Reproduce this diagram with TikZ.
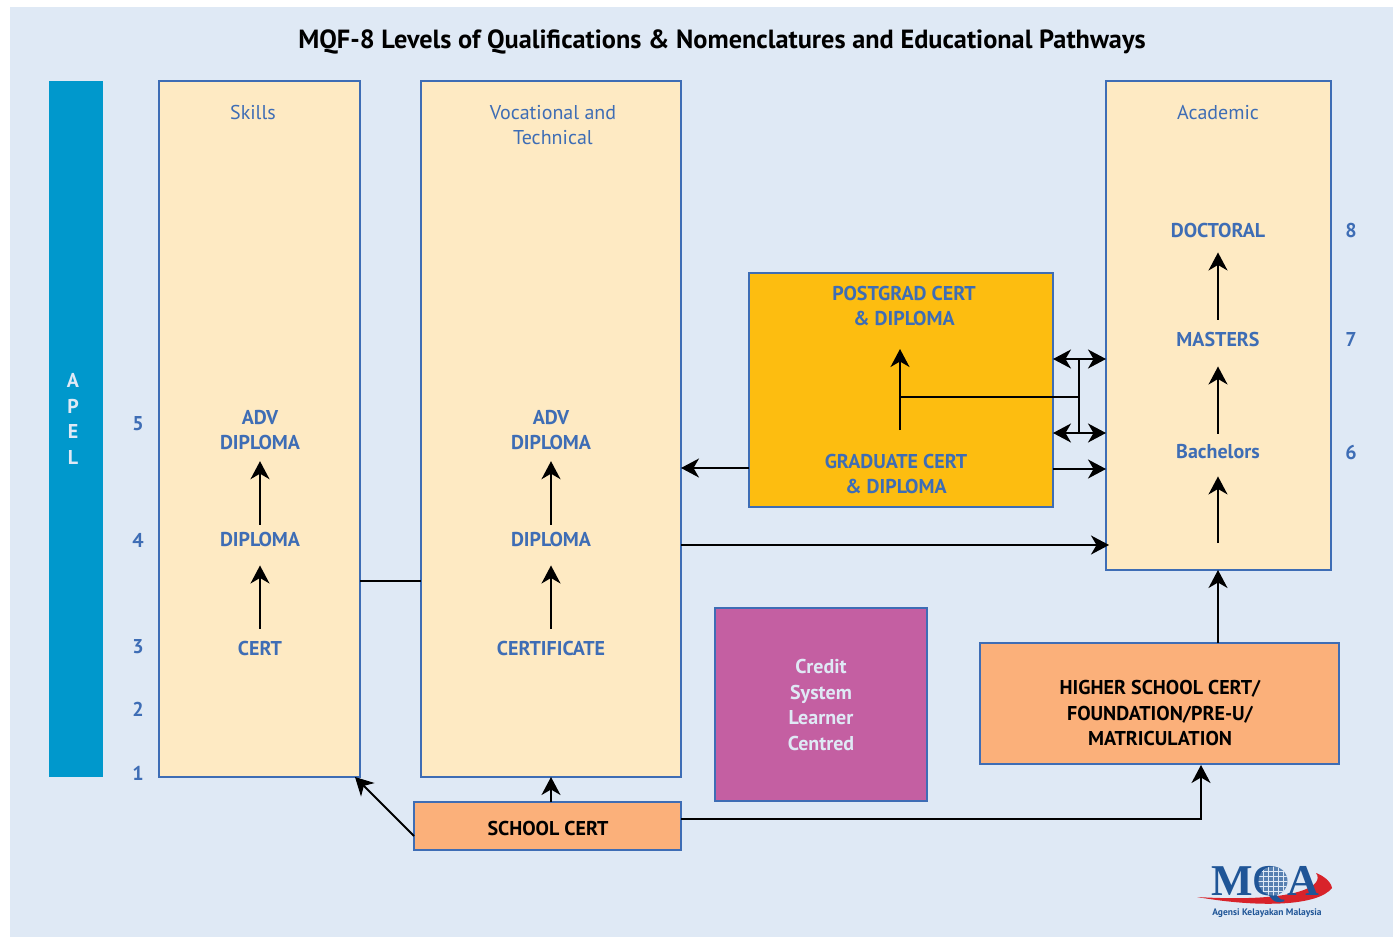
\documentclass[tikz,border=0pt]{standalone}
\usepackage{fontspec}
\setmainfont{PT Sans}
\newfontfamily\logofont{Liberation Serif}
\usetikzlibrary{arrows.meta}
\definecolor{pagebg}{HTML}{DFE9F5}
\definecolor{cream}{HTML}{FEEAC3}
\definecolor{lineblue}{HTML}{3E6DB5}
\definecolor{gold}{HTML}{FDBD10}
\definecolor{plum}{HTML}{C45FA2}
\definecolor{salmon}{HTML}{FBB07A}
\definecolor{teal}{HTML}{0098CC}
\definecolor{logoblue}{HTML}{1F5597}
\definecolor{logored}{HTML}{D8232A}
\tikzset{
  x=1pt,y=-1pt,
  box/.style={draw=lineblue,line width=1.9pt,anchor=north west,inner sep=0pt,outer sep=0pt},
  lbl/.style={font=\fontsize{20}{25.5}\selectfont\bfseries,text=lineblue,align=center,inner sep=0pt},
  thin lbl/.style={font=\fontsize{20}{25.5}\selectfont,text=lineblue,align=center,inner sep=0pt},
  blk/.style={font=\fontsize{20}{25.5}\selectfont\bfseries,text=black,align=center,inner sep=0pt},
  wht/.style={font=\fontsize{20}{25.5}\selectfont\bfseries,text=pagebg,align=center,inner sep=0pt},
  conn/.style={draw=black,line width=1.9pt},
  arr/.style={conn,-{Stealth[length=18pt,width=19pt,inset=5.5pt]}},
  darr/.style={conn,{Stealth[length=18pt,width=19pt,inset=5.5pt]}-{Stealth[length=18pt,width=19pt,inset=5.5pt]}},
}
\begin{document}
\begin{tikzpicture}
\useasboundingbox (0,0) rectangle (1393,937);
\fill[pagebg] (10,7) rectangle (1393,937);
\node[font=\fontsize{26.3}{30}\selectfont\bfseries,inner sep=0pt] (title) at (722,42) {MQF-8 Levels of Qualifications \& Nomenclatures and Educational Pathways};

% boxes
\node[anchor=north west,fill=teal,minimum width=54pt,minimum height=696pt,inner sep=0pt,outer sep=0pt] (apel) at (49,81) {};
\node[box,fill=cream,minimum width=201pt,minimum height=696pt] (skills) at (159,81) {};
\node[box,fill=cream,minimum width=260pt,minimum height=696pt] (voc) at (421,81) {};
\node[box,fill=cream,minimum width=225pt,minimum height=489pt] (acad) at (1106,81) {};
\node[box,fill=gold,minimum width=304pt,minimum height=234pt] (grad) at (749,273) {};
\node[box,fill=plum,minimum width=212pt,minimum height=193pt] (credit) at (715,608) {};
\node[box,fill=salmon,minimum width=359pt,minimum height=121pt] (higher) at (980,643) {};
\node[box,fill=salmon,minimum width=267pt,minimum height=48pt] (school) at (414,802) {};

% texts
\node[wht] (apeltxt) at (73,419) {A\\P\\E\\L};
\node[thin lbl] (skillstxt) at (253,112) {Skills};
\node[thin lbl] (voctxt) at (553,125) {Vocational and\\Technical};
\node[thin lbl] (acadtxt) at (1218,113) {Academic};

\node[lbl] (sadv) at (260,430) {ADV\\DIPLOMA};
\node[lbl] (sdip) at (260,539) {DIPLOMA};
\node[lbl] (scert) at (260,648) {CERT};
\node[lbl] (vadv) at (551,430) {ADV\\DIPLOMA};
\node[lbl] (vdip) at (551,539) {DIPLOMA};
\node[lbl] (vcert) at (551,648) {CERTIFICATE};
\node[lbl] (doc) at (1218,230) {DOCTORAL};
\node[lbl] (mas) at (1218,339) {MASTERS};
\node[lbl] (bac) at (1218,452) {Bachelors};
\coordinate (bacfoot) at (1218,543);
\node[lbl] (pg) at (904,306) {POSTGRAD CERT\\\& DIPLOMA};
\node[lbl] (gc) at (896,474) {GRADUATE CERT\\\& DIPLOMA};
\node[wht] (credittxt) at (821,705) {Credit\\System\\Learner\\Centred};
\node[blk] (highertxt) at (1160,713) {HIGHER SCHOOL CERT/\\FOUNDATION/PRE-U/\\MATRICULATION};
\node[blk] (schooltxt) at (548,828) {SCHOOL CERT};

\foreach \n/\t/\x/\y in {l5/5/138/424,l4/4/138/540,l3/3/138/647,l2/2/138/709,l1/1/138/773,l8/8/1351/230,l7/7/1351/339,l6/6/1351/452}
  \node[lbl] (\n) at (\x,\y) {\t};

% connectors
\draw[arr,shorten <=12pt,shorten >=19pt] (scert) -- (sdip);
\draw[arr,shorten <=7pt,shorten >=11pt] (sdip) -- (sadv);
\draw[arr,shorten <=12pt,shorten >=19pt] (vcert) -- (vdip);
\draw[arr,shorten <=7pt,shorten >=11pt] (vdip) -- (vadv);
\draw[arr,shorten >=17pt] (bacfoot) -- (bac);
\draw[arr,shorten <=11pt,shorten >=20pt] (bac) -- (mas);
\draw[arr,shorten <=12pt,shorten >=15pt] (mas) -- (doc);

\coordinate (pgtip) at (900,349);
\coordinate (gcfoot) at (900,430);
\coordinate (tee) at (900,397);
\coordinate (busmid) at (1079,397);
\coordinate (bustop) at (1079,359);
\coordinate (busbot) at (1079,433);
\draw[arr] (gcfoot) -- (pgtip);
\draw[conn] (tee) -- (busmid);
\draw[conn] (bustop) -- (busbot);
\draw[darr] (grad.east |- bustop) -- (acad.west |- bustop);
\draw[darr] (grad.east |- busbot) -- (acad.west |- busbot);
\draw[arr] (grad.east |- 0,469) -- (acad.west |- 0,469);
\draw[arr] (grad.west |- 0,468) -- (voc.east |- 0,468);
\draw[arr] (voc.east |- 0,545) -- ([xshift=3pt]acad.west |- 0,545);
\draw[conn] (skills.east |- 0,581) -- (voc.west |- 0,581);
\draw[arr] (higher.north -| bacfoot) -- (acad.south -| bacfoot);
\draw[arr] (school.north -| voc.south) -- (voc.south);
\draw[arr] (school.west |- 0,836) -- (355,777);
\draw[arr] (school.east |- 0,819) -- (1201,819) -- (1201,765);

% logo
\fill[logored] (1197,897) .. controls (1260,908) and (1318,906) .. (1332,888)
  .. controls (1331,881) and (1322,875) .. (1316,873)
  .. controls (1325,885) and (1300,903) .. (1197,897) -- cycle;
\node[font=\logofont\fontsize{44}{44}\selectfont\bfseries,text=logoblue,inner sep=0pt] (mqa) at (1265,884) {MQA};
\begin{scope}
  \fill[logoblue!75!white] (1273,881) circle (14.5);
  \clip (1273,881) circle (14.5);
  \foreach \d in {-10,-5,0,5,10} {
    \draw[pagebg,line width=.5pt] (1258,881+\d) -- (1288,881+\d);
    \draw[pagebg,line width=.5pt] (1273+\d,866) -- (1273+\d,896);
  }
\end{scope}
\node[font=\fontsize{9.5}{10}\selectfont\bfseries,text=logoblue,inner sep=0pt] (agensi) at (1267,913) {Agensi Kelayakan Malaysia};
\end{tikzpicture}
\end{document}
